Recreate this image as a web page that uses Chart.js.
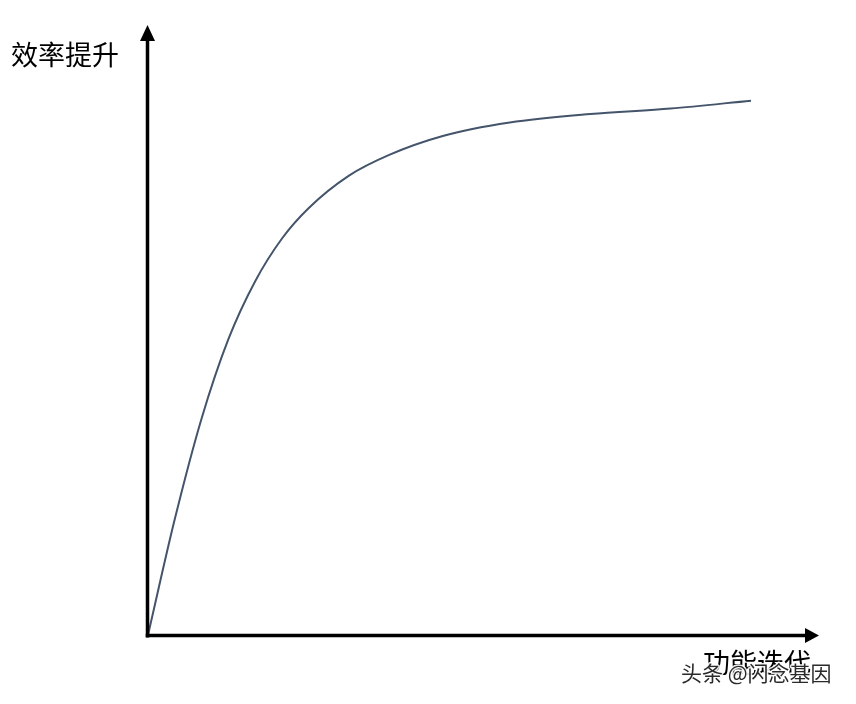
<!DOCTYPE html>
<html>
<head>
<meta charset="utf-8">
<script src="https://cdn.jsdelivr.net/npm/chart.js@4/dist/chart.umd.min.js"></script>
<style>
  html, body { margin: 0; padding: 0; background: #ffffff; }
  #wrap { width: 856px; height: 704px; }
</style>
</head>
<body>
<div id="wrap"><canvas id="c" width="856" height="704"></canvas></div>
<script>
// Feature iterations (x) vs efficiency gain (y)
const iterations = [0, 4, 8, 12, 16, 20, 24, 30, 36, 44, 54, 66, 78, 90];
const efficiency = [0, 19.0, 35.5, 48.5, 58.0, 65.0, 70.0, 75.3, 78.7, 81.8, 84.0, 85.4, 86.3, 87.6];
const yAxisLabel = '效率提升';
const xAxisLabel = '功能迭代';
const watermark = '头条 @闪念基因';

const points = iterations.map((x, i) => ({ x: x, y: efficiency[i] }));

const axesPlugin = {
  id: 'arrowAxes',
  afterDraw(chart) {
    const ctx = chart.ctx;
    const a = chart.chartArea;
    const ox = a.left - 0.5, oy = a.bottom + 0.5;
    ctx.save();
    ctx.strokeStyle = '#000';
    ctx.fillStyle = '#000';
    ctx.lineWidth = 3.5;
    ctx.lineCap = 'butt';
    // y axis
    ctx.beginPath();
    ctx.moveTo(ox, oy + 2);
    ctx.lineTo(ox, a.top + 14);
    ctx.stroke();
    ctx.beginPath();
    ctx.moveTo(ox, a.top);
    ctx.lineTo(ox - 7.5, a.top + 16);
    ctx.lineTo(ox + 7.5, a.top + 16);
    ctx.closePath();
    ctx.fill();
    // x axis
    ctx.beginPath();
    ctx.moveTo(ox - 1.75, oy);
    ctx.lineTo(a.right - 12, oy);
    ctx.stroke();
    ctx.beginPath();
    ctx.moveTo(a.right + 1, oy);
    ctx.lineTo(a.right - 13, oy - 7.5);
    ctx.lineTo(a.right - 13, oy + 7.5);
    ctx.closePath();
    ctx.fill();
    // labels
    ctx.font = '27px "Noto Sans CJK SC", sans-serif';
    ctx.textBaseline = 'middle';
    ctx.textAlign = 'left';
    ctx.fillStyle = '#000';
    ctx.fillText(yAxisLabel, 11, 55);
    ctx.fillText(xAxisLabel, 703, 663);
    // watermark
    ctx.font = '21px "Noto Sans CJK SC", sans-serif';
    ctx.lineWidth = 3;
    ctx.strokeStyle = 'rgba(255,255,255,0.9)';
    ctx.lineJoin = 'round';
    ctx.strokeText(watermark, 681, 673);
    ctx.fillStyle = '#2a2a2a';
    ctx.fillText(watermark, 681, 673);
    ctx.restore();
  }
};

new Chart(document.getElementById('c'), {
  type: 'line',
  data: {
    datasets: [{
      data: points,
      borderColor: '#44546A',
      borderWidth: 2,
      pointRadius: 0,
      fill: false,
      cubicInterpolationMode: 'monotone',
      clip: false
    }]
  },
  options: {
    responsive: false,
    animation: false,
    devicePixelRatio: 1,
    layout: { padding: { left: 148, top: 25, right: 38, bottom: 69 } },
    plugins: { legend: { display: false }, tooltip: { enabled: false } },
    scales: {
      x: { type: 'linear', min: 0, max: 100, display: false },
      y: { type: 'linear', min: 0, max: 100, display: false }
    }
  },
  plugins: [axesPlugin]
});
</script>
</body>
</html>
